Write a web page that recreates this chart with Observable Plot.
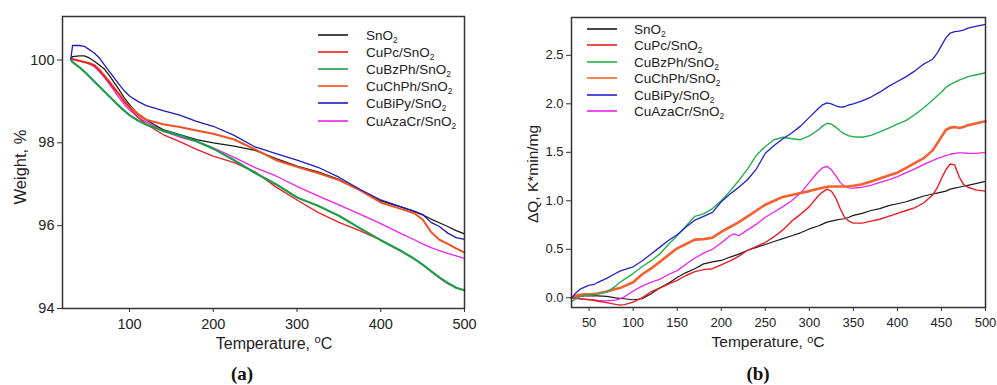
<!DOCTYPE html>
<html><head><meta charset="utf-8">
<script src="https://cdn.jsdelivr.net/npm/d3@7"></script>
<script src="https://cdn.jsdelivr.net/npm/@observablehq/plot@0.6"></script>
<style>
body{margin:0;background:#fff;font-family:"Liberation Sans",Arial,sans-serif;color:#222;}
#wrap{position:relative;width:997px;height:385px;overflow:hidden;}
.panel{position:absolute;top:0;}
.abs{position:absolute;white-space:nowrap;}
.ylab{transform:translate(-50%,-50%) rotate(-90deg);}
.xlab{transform:translate(-50%,-50%);}
.cap{transform:translate(-50%,-50%);font-family:"Liberation Serif","DejaVu Serif",serif;font-weight:bold;font-size:19px;color:#111;}
.row{position:absolute;display:flex;align-items:center;height:18px;}
sub{font-size:0.62em;vertical-align:-0.35em;line-height:0;}
</style></head><body><div id="wrap"></div>
<script>
// ---------- data ----------
const seriesNames = ["SnO2", "CuPc/SnO2", "CuBzPh/SnO2", "CuChPh/SnO2", "CuBiPy/SnO2", "CuAzaCr/SnO2"];
const colorsA = ["#1a1a1a", "#ea1c24", "#1e9e4a", "#f2501f", "#1c1cb8", "#ee22ee"];
const colorsB = ["#1a1a1a", "#ea1c24", "#22b04a", "#f4612f", "#2222c8", "#ee22ee"];
const widthsA = [1.3, 1.3, 2.2, 2.0, 1.3, 1.3];
const widthsB = [1.2, 1.4, 1.4, 2.6, 1.3, 1.3];

// Panel (a): TGA weight, %
const tempsA = [30, 32, 40, 46, 52, 58, 64, 70, 76, 82, 88, 94, 100, 110, 120, 140, 160, 180, 200, 225, 250, 275, 300, 325, 350, 375, 400, 425, 440, 450, 460, 470, 480, 490, 500];
const wSnO2   = [100.02, 100.08, 100.10, 100.10, 100.05, 99.97, 99.88, 99.78, 99.62, 99.45, 99.27, 99.08, 98.92, 98.68, 98.55, 98.32, 98.20, 98.08, 98.00, 97.92, 97.82, 97.62, 97.44, 97.30, 97.12, 96.86, 96.60, 96.45, 96.34, 96.26, 96.16, 96.07, 95.98, 95.88, 95.80];
const wCuPc   = [100.02, 100.02, 99.98, 99.95, 99.92, 99.86, 99.74, 99.60, 99.45, 99.30, 99.15, 98.98, 98.85, 98.62, 98.45, 98.20, 98.03, 97.84, 97.68, 97.52, 97.30, 96.93, 96.62, 96.32, 96.08, 95.88, 95.65, 95.38, 95.20, 95.06, 94.90, 94.74, 94.60, 94.50, 94.44];
const wCuBzPh = [100.00, 99.95, 99.83, 99.72, 99.60, 99.48, 99.36, 99.24, 99.12, 99.00, 98.88, 98.77, 98.67, 98.54, 98.44, 98.29, 98.18, 98.04, 97.86, 97.58, 97.27, 97.00, 96.68, 96.48, 96.24, 95.94, 95.65, 95.38, 95.20, 95.06, 94.90, 94.75, 94.62, 94.50, 94.44];
const wCuChPh = [100.02, 100.02, 99.98, 99.95, 99.92, 99.88, 99.77, 99.63, 99.48, 99.32, 99.17, 99.00, 98.88, 98.70, 98.56, 98.45, 98.38, 98.30, 98.22, 98.08, 97.84, 97.58, 97.42, 97.27, 97.10, 96.86, 96.56, 96.40, 96.30, 96.15, 95.85, 95.66, 95.56, 95.45, 95.35];
const wCuBiPy = [100.03, 100.35, 100.35, 100.33, 100.25, 100.17, 100.05, 99.88, 99.72, 99.56, 99.40, 99.25, 99.13, 99.00, 98.90, 98.78, 98.67, 98.52, 98.40, 98.18, 97.90, 97.74, 97.58, 97.41, 97.17, 96.88, 96.62, 96.45, 96.35, 96.27, 96.08, 95.98, 95.82, 95.71, 95.67];
const wCuAzaCr= [100.02, 100.02, 99.98, 99.95, 99.90, 99.84, 99.72, 99.58, 99.42, 99.25, 99.08, 98.92, 98.80, 98.62, 98.50, 98.29, 98.14, 98.03, 97.88, 97.65, 97.40, 97.20, 96.95, 96.72, 96.50, 96.28, 96.05, 95.80, 95.66, 95.56, 95.47, 95.40, 95.33, 95.27, 95.21];
const ticksAx = [100, 200, 300, 400, 500];
const ticksAy = [94, 96, 98, 100];

// Panel (b): DSC, ΔQ K*min/mg
const tempsB = [30, 35, 40, 45, 50, 55, 60, 70, 80, 85, 90, 100, 110, 120, 130, 140, 150, 160, 170, 180, 190, 200, 210, 215, 220, 230, 240, 250, 260, 270, 280, 290, 300, 310, 315, 320, 325, 330, 335, 340, 345, 350, 360, 370, 380, 390, 400, 410, 420, 430, 440, 445, 450, 455, 460, 465, 470, 475, 480, 490, 500];
const qSnO2   = [0.00, 0.01, 0.015, 0.02, 0.02, 0.02, 0.02, 0.015, 0.00, -0.005, -0.01, -0.02, -0.01, 0.04, 0.10, 0.15, 0.21, 0.26, 0.30, 0.35, 0.37, 0.385, 0.42, 0.435, 0.45, 0.49, 0.52, 0.55, 0.58, 0.61, 0.64, 0.67, 0.71, 0.74, 0.76, 0.78, 0.79, 0.80, 0.81, 0.815, 0.83, 0.85, 0.87, 0.90, 0.92, 0.95, 0.97, 0.99, 1.02, 1.05, 1.07, 1.08, 1.09, 1.10, 1.12, 1.13, 1.14, 1.15, 1.16, 1.18, 1.20];
const qCuPc   = [0.00, -0.005, -0.01, -0.015, -0.02, -0.025, -0.035, -0.05, -0.068, -0.075, -0.07, -0.045, 0.00, 0.06, 0.10, 0.14, 0.18, 0.23, 0.27, 0.29, 0.30, 0.34, 0.38, 0.405, 0.43, 0.49, 0.53, 0.57, 0.63, 0.70, 0.79, 0.86, 0.94, 1.05, 1.09, 1.12, 1.10, 1.03, 0.92, 0.83, 0.79, 0.77, 0.77, 0.79, 0.81, 0.84, 0.87, 0.90, 0.93, 0.98, 1.06, 1.13, 1.23, 1.32, 1.38, 1.37, 1.25, 1.17, 1.14, 1.11, 1.10];
const qCuBzPh = [-0.04, -0.01, 0.015, 0.025, 0.03, 0.035, 0.04, 0.06, 0.12, 0.16, 0.19, 0.25, 0.32, 0.38, 0.45, 0.55, 0.64, 0.74, 0.84, 0.865, 0.92, 1.00, 1.10, 1.155, 1.21, 1.33, 1.47, 1.56, 1.63, 1.655, 1.64, 1.63, 1.67, 1.73, 1.77, 1.80, 1.79, 1.76, 1.72, 1.69, 1.67, 1.66, 1.655, 1.675, 1.71, 1.75, 1.79, 1.83, 1.89, 1.96, 2.04, 2.08, 2.12, 2.17, 2.20, 2.22, 2.245, 2.26, 2.28, 2.30, 2.32];
const qCuChPh = [0.00, 0.02, 0.03, 0.035, 0.035, 0.04, 0.045, 0.065, 0.09, 0.10, 0.12, 0.16, 0.24, 0.30, 0.37, 0.44, 0.51, 0.555, 0.60, 0.605, 0.62, 0.68, 0.73, 0.755, 0.78, 0.84, 0.90, 0.96, 1.00, 1.04, 1.06, 1.08, 1.10, 1.125, 1.135, 1.145, 1.148, 1.148, 1.148, 1.148, 1.15, 1.155, 1.17, 1.20, 1.23, 1.26, 1.29, 1.34, 1.39, 1.44, 1.52, 1.59, 1.66, 1.73, 1.755, 1.76, 1.75, 1.76, 1.78, 1.80, 1.82];
const qCuBiPy = [0.00, 0.05, 0.09, 0.11, 0.13, 0.135, 0.16, 0.20, 0.25, 0.275, 0.29, 0.32, 0.38, 0.45, 0.52, 0.59, 0.65, 0.73, 0.80, 0.84, 0.88, 0.99, 1.07, 1.105, 1.14, 1.22, 1.33, 1.49, 1.57, 1.64, 1.70, 1.77, 1.86, 1.95, 1.99, 2.01, 2.00, 1.98, 1.965, 1.97, 1.99, 2.00, 2.03, 2.07, 2.12, 2.18, 2.23, 2.28, 2.34, 2.41, 2.46, 2.52, 2.60, 2.68, 2.73, 2.745, 2.75, 2.76, 2.78, 2.80, 2.82];
const qCuAzaCr= [0.00, -0.005, -0.01, -0.015, -0.018, -0.022, -0.028, -0.032, -0.025, -0.01, 0.01, 0.07, 0.12, 0.16, 0.19, 0.24, 0.28, 0.345, 0.41, 0.46, 0.50, 0.565, 0.64, 0.66, 0.64, 0.70, 0.76, 0.83, 0.885, 0.94, 1.00, 1.08, 1.19, 1.30, 1.34, 1.355, 1.32, 1.26, 1.19, 1.15, 1.134, 1.13, 1.14, 1.16, 1.19, 1.215, 1.25, 1.29, 1.33, 1.375, 1.415, 1.435, 1.45, 1.465, 1.48, 1.49, 1.495, 1.495, 1.49, 1.49, 1.50];
const ticksBx = [50, 100, 150, 200, 250, 300, 350, 400, 450, 500];
const ticksBy = [0, 0.5, 1.0, 1.5, 2.0, 2.5];

const seriesA = [wSnO2, wCuPc, wCuBzPh, wCuChPh, wCuBiPy, wCuAzaCr];
const seriesB = [qSnO2, qCuPc, qCuBzPh, qCuChPh, qCuBiPy, qCuAzaCr];

// ---------- build ----------
const wrap = document.getElementById("wrap");
function rows(temps, vals, name){ return temps.map((t,i)=>({T:t, v:vals[i], s:name})); }

function makePanel(opts){
  const marks = [];
  const order = [0,5,3,1,2,4];
  for (const k of order){
    marks.push(Plot.line(rows(opts.temps, opts.series[k], seriesNames[k]), {x:"T", y:"v", stroke: opts.colors[k], strokeWidth: opts.widths[k], curve:"linear"}));
  }
  marks.push(Plot.axisX({ticks: opts.xt, tickSize:4, tickPadding:6, label:null, tickFormat: d=>String(d)}));
  marks.push(Plot.axisY({ticks: opts.yt, tickSize:5, tickPadding:3, label:null, tickFormat: opts.yfmt}));
  marks.push(Plot.frame({stroke:"#333", strokeWidth:1.5}));
  const p = Plot.plot({
    width: opts.width, height: 360,
    marginLeft: opts.ml, marginRight: opts.mr, marginTop: opts.mt, marginBottom: 360 - opts.bottom,
    x: {domain: opts.xd}, y: {domain: opts.yd},
    style: {fontFamily:"'Liberation Sans', Arial, sans-serif", fontSize: opts.fs, color:"#333", background:"transparent", overflow:"visible"},
    marks
  });
  p.classList.add("panel");
  p.style.left = opts.left + "px";
  p.querySelectorAll("text").forEach(t=>t.setAttribute("fill","#222"));
  wrap.appendChild(p);
}

makePanel({temps: tempsA, series: seriesA, colors: colorsA, widths: widthsA, xt: ticksAx, yt: ticksAy,
  yfmt: d=>String(d), width: 500, left: 0, ml: 62, mr: 36, mt: 16, bottom: 308,
  xd: [20, 500], yd: [94, 101.05], fs: "14.5px"});
makePanel({temps: tempsB, series: seriesB, colors: colorsB, widths: widthsB, xt: ticksBx, yt: ticksBy,
  yfmt: d3.format(".1f"), width: 497, left: 499, ml: 72, mr: 11, mt: 17, bottom: 307,
  xd: [30, 500], yd: [-0.1, 2.89], fs: "13px"});

function addText(cls, html, x, y, extra){
  const d = document.createElement("div");
  d.className = "abs " + cls;
  d.innerHTML = html;
  d.style.left = x + "px"; d.style.top = y + "px";
  Object.assign(d.style, extra || {});
  wrap.appendChild(d);
}
addText("ylab", "Weight, %", 20, 167, {fontSize:"16.5px"});
addText("xlab", "Temperature, <span style='font-size:0.7em;vertical-align:0.45em'>o</span>C", 274, 343, {fontSize:"16px"});
addText("ylab", "ΔQ, K*min/mg", 533, 174, {fontSize:"15.5px"});
addText("xlab", "Temperature, <span style='font-size:0.7em;vertical-align:0.45em'>o</span>C", 768, 342, {fontSize:"15.5px"});
addText("cap", "(a)", 242, 374);
addText("cap", "(b)", 758, 374);

function legend(x0, textX, y0, dy, colors, fs){
  seriesNames.forEach((n,i)=>{
    const r = document.createElement("div");
    r.className = "row";
    r.style.left = x0 + "px";
    r.style.top = Math.round(y0 + i*dy - 9) + "px";
    const sw = document.createElementNS("http://www.w3.org/2000/svg", "svg");
    sw.setAttribute("width", "30"); sw.setAttribute("height", "4");
    sw.style.display = "block";
    const ln = document.createElementNS("http://www.w3.org/2000/svg", "line");
    ln.setAttribute("x1", "0"); ln.setAttribute("x2", "30");
    ln.setAttribute("y1", "2"); ln.setAttribute("y2", "2");
    ln.setAttribute("stroke", colors[i]); ln.setAttribute("stroke-width", "1.6");
    sw.appendChild(ln);
    const t = document.createElement("span");
    t.style.marginLeft = (textX - x0 - 30) + "px";
    t.style.fontSize = fs;
    t.innerHTML = n.replace(/2$/, "<sub>2</sub>");
    r.appendChild(sw); r.appendChild(t);
    wrap.appendChild(r);
  });
}
legend(318, 366, 35, 17.1, colorsA, "13.5px");
legend(587, 634, 29, 16.4, colorsB, "13.5px");
</script></body></html>
